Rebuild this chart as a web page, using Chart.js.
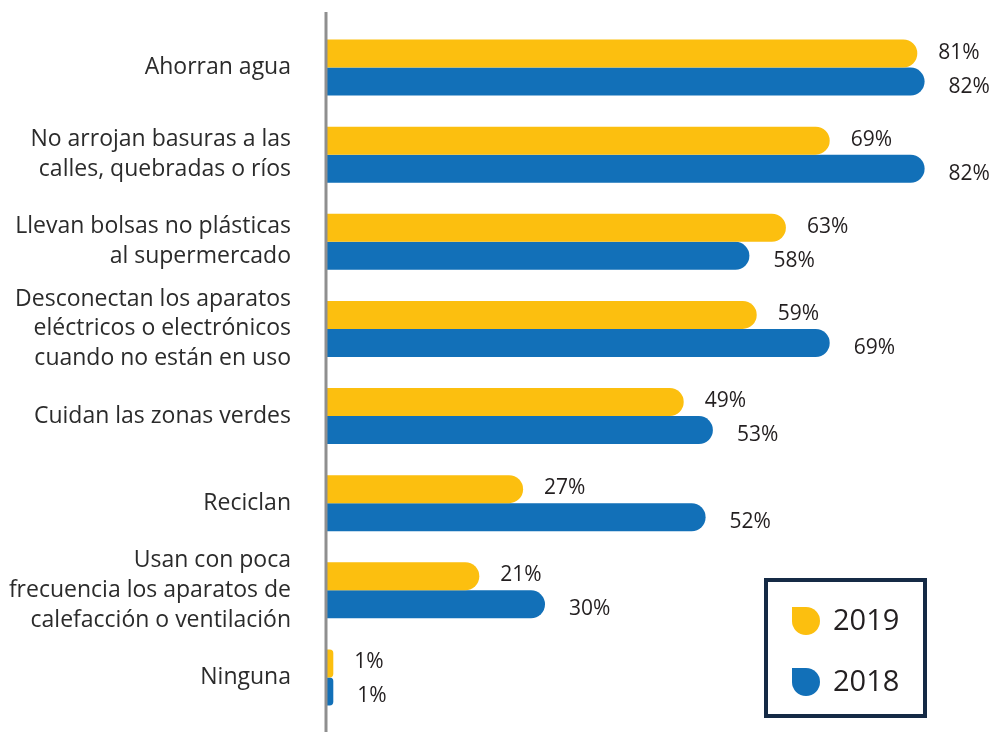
<!DOCTYPE html>
<html>
<head>
<meta charset="utf-8">
<script src="https://cdn.jsdelivr.net/npm/chart.js@4.4.1/dist/chart.umd.min.js"></script>
<style>
  html, body { margin: 0; padding: 0; background: #fff; }
  #wrap { width: 995px; height: 732px; position: relative; }
</style>
</head>
<body>
<div id="wrap"><canvas id="chartJSContainer"></canvas></div>
<script>
  // acciones ambientales por año
  var categorias = [
    ['Ahorran agua'],
    ['No arrojan basuras a las', 'calles, quebradas o ríos'],
    ['Llevan bolsas no plásticas', 'al supermercado'],
    ['Desconectan los aparatos', 'eléctricos o electrónicos', 'cuando no están en uso'],
    ['Cuidan las zonas verdes'],
    ['Reciclan'],
    ['Usan con poca', 'frecuencia los aparatos de', 'calefacción o ventilación'],
    ['Ninguna']
  ]
  var valores2019 = [81, 69, 63, 59, 49, 27, 21, 1]
  var valores2018 = [82, 82, 58, 69, 53, 52, 30, 1]
  var anios = ['2019', '2018']
  var colores = ['#fcbf0f', '#1270b8']

  var fuente = '"Open Sans", Lato, sans-serif'

  // linea vertical del eje, mas larga que el area del grafico
  var ejeVertical = {
    id: 'ejeVertical',
    afterDraw: function (chart) {
      var c = chart.ctx
      var x = chart.scales.x.left
      c.save()
      c.strokeStyle = '#8f8f8f'
      c.lineWidth = 3
      c.beginPath()
      c.moveTo(x, 12)
      c.lineTo(x, 732)
      c.stroke()
      c.restore()
    }
  }

  // porcentajes al final de cada barra
  var etiquetas = {
    id: 'etiquetas',
    afterDatasetsDraw: function (chart) {
      var c = chart.ctx
      c.save()
      c.font = '21px ' + fuente
      c.fillStyle = '#231f20'
      c.textAlign = 'left'
      c.textBaseline = 'middle'
      chart.data.datasets.forEach(function (ds, i) {
        var meta = chart.getDatasetMeta(i)
        meta.data.forEach(function (bar, j) {
          var dx = i === 0 ? 21 : 24
          var dy = i === 0 ? -1 : 5
          c.fillText(ds.data[j] + '%', bar.x + dx, bar.y + dy)
        })
      })
      c.restore()
    }
  }

  // cuadro de leyenda abajo a la derecha
  var leyenda = {
    id: 'leyenda',
    afterDraw: function (chart) {
      var c = chart.ctx
      c.save()
      c.strokeStyle = '#152a45'
      c.lineWidth = 4
      c.strokeRect(766, 580, 159, 136)
      var filas = [621, 682]
      anios.forEach(function (a, i) {
        var y = filas[i]
        c.fillStyle = colores[i]
        c.beginPath()
        c.roundRect(792, y - 14, 28, 28, [0, 14, 14, 14])
        c.fill()
        c.fillStyle = '#231f20'
        c.font = '29px ' + fuente
        c.textAlign = 'left'
        c.textBaseline = 'middle'
        c.fillText(a, 833, y + 1)
      })
      c.restore()
    }
  }

  var ctx = document.getElementById('chartJSContainer').getContext('2d')
  new Chart(ctx, {
    type: 'bar',
    data: {
      labels: categorias,
      datasets: [
        {
          label: anios[0],
          data: valores2019,
          backgroundColor: colores[0],
          borderRadius: 14,
          borderSkipped: 'start',
          categoryPercentage: 0.644,
          barPercentage: 1
        },
        {
          label: anios[1],
          data: valores2018,
          backgroundColor: colores[1],
          borderRadius: 14,
          borderSkipped: 'start',
          categoryPercentage: 0.644,
          barPercentage: 1
        }
      ]
    },
    options: {
      indexAxis: 'y',
      responsive: true,
      maintainAspectRatio: false,
      animation: false,
      layout: { padding: { top: 24, bottom: 11, right: 12, left: 0 } },
      plugins: {
        legend: { display: false },
        tooltip: { enabled: false }
      },
      scales: {
        x: {
          display: false,
          min: 0,
          max: 90
        },
        y: {
          afterFit: function (scale) {
            scale.width = 326
            scale.paddingTop = 0
            scale.paddingBottom = 0
          },
          grid: { display: false, drawTicks: false },
          border: { display: false },
          ticks: {
            autoSkip: false,
            padding: 35,
            color: '#2b2b2b',
            font: { family: fuente, size: 23, lineHeight: 1.3 }
          }
        }
      }
    },
    plugins: [ejeVertical, etiquetas, leyenda]
  })
</script>
</body>
</html>
